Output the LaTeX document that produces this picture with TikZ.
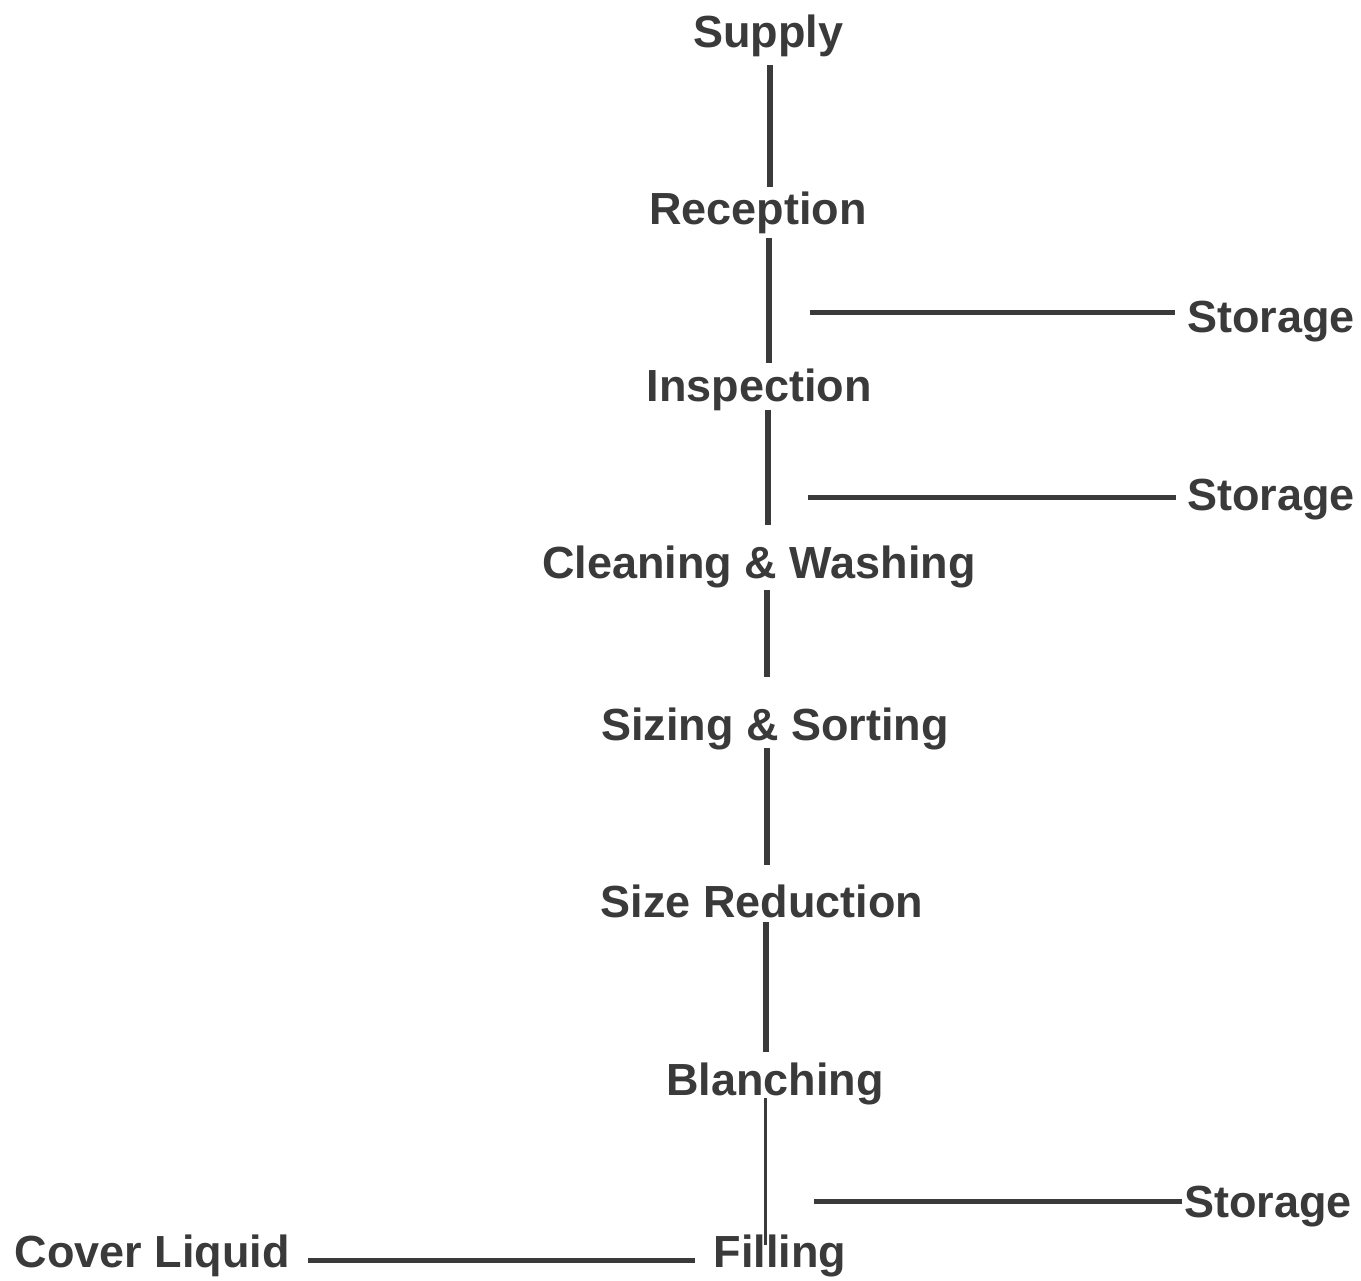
\documentclass[tikz,border=0pt]{standalone}
\usepackage{fontspec}
\setmainfont{Liberation Sans}
\definecolor{ink}{RGB}{58,58,58}
\begin{document}
\begin{tikzpicture}[x=1pt,y=-1pt,
  lbl/.style={font=\fontsize{45}{54}\selectfont\bfseries, text=ink, inner sep=0pt, anchor=base},
  lblw/.style={lbl, anchor=base west},
  lble/.style={lbl, anchor=base east},
  spine/.style={draw=ink, line width=6pt},
  thinspine/.style={draw=ink, line width=3pt},
  branch/.style={draw=ink, line width=5pt}]
\useasboundingbox[fill=white] (0,0) rectangle (1361,1281);
% process steps
\node[lbl] (supply)    at (768,48)   {Supply};
\node[lbl] (reception) at (758,225)  {Reception};
\node[lbl] (inspection) at (759,402) {Inspection};
\node[lbl] (cleaning)  at (759,578)  {Cleaning \& Washing};
\node[lbl] (sizing)    at (775,740)  {Sizing \& Sorting};
\node[lbl] (sizered)   at (762,917)  {Size Reduction};
\node[lbl] (blanching) at (775,1095) {Blanching};
\node[lbl] (filling)   at (780,1267) {Filling};
% side labels
\node[lblw] (st1)   at (1187,333)  {Storage};
\node[lblw] (st2)   at (1187,510)  {Storage};
\node[lblw] (st3)   at (1184,1217) {Storage};
\node[lble] (cover) at (290,1267)  {Cover Liquid};
% spine
\draw[spine] ([shift={(2,17)}]supply.base) -- ([shift={(12,-38)}]reception.base);
\draw[spine] ([shift={(11,13)}]reception.base) -- ([shift={(10,-39)}]inspection.base);
\draw[spine] ([shift={(9,8)}]inspection.base) -- ([shift={(9,-53)}]cleaning.base);
\draw[spine] ([shift={(8,12)}]cleaning.base) -- ([shift={(-8,-63)}]sizing.base);
\draw[spine] ([shift={(-8,8)}]sizing.base) -- ([shift={(5,-52)}]sizered.base);
\draw[spine] ([shift={(4,5)}]sizered.base) -- ([shift={(-9,-43)}]blanching.base);
\draw[thinspine] ([shift={(-10,3)}]blanching.base) -- ([shift={(-15,-22)}]filling.base);
% branches
\coordinate (j1) at (810,313);
\coordinate (j2) at (808,497);
\coordinate (j3) at (814,1201);
\draw[branch] (j1) -- ([shift={(-12,-20)}]st1.base west);
\draw[branch] (j2) -- ([shift={(-11,-13)}]st2.base west);
\draw[branch] (j3) -- ([shift={(-2,-16)}]st3.base west);
\draw[branch] ([shift={(18,-7)}]cover.base east) -- ([shift={(-19,-7)}]filling.base west);
\end{tikzpicture}
\end{document}
